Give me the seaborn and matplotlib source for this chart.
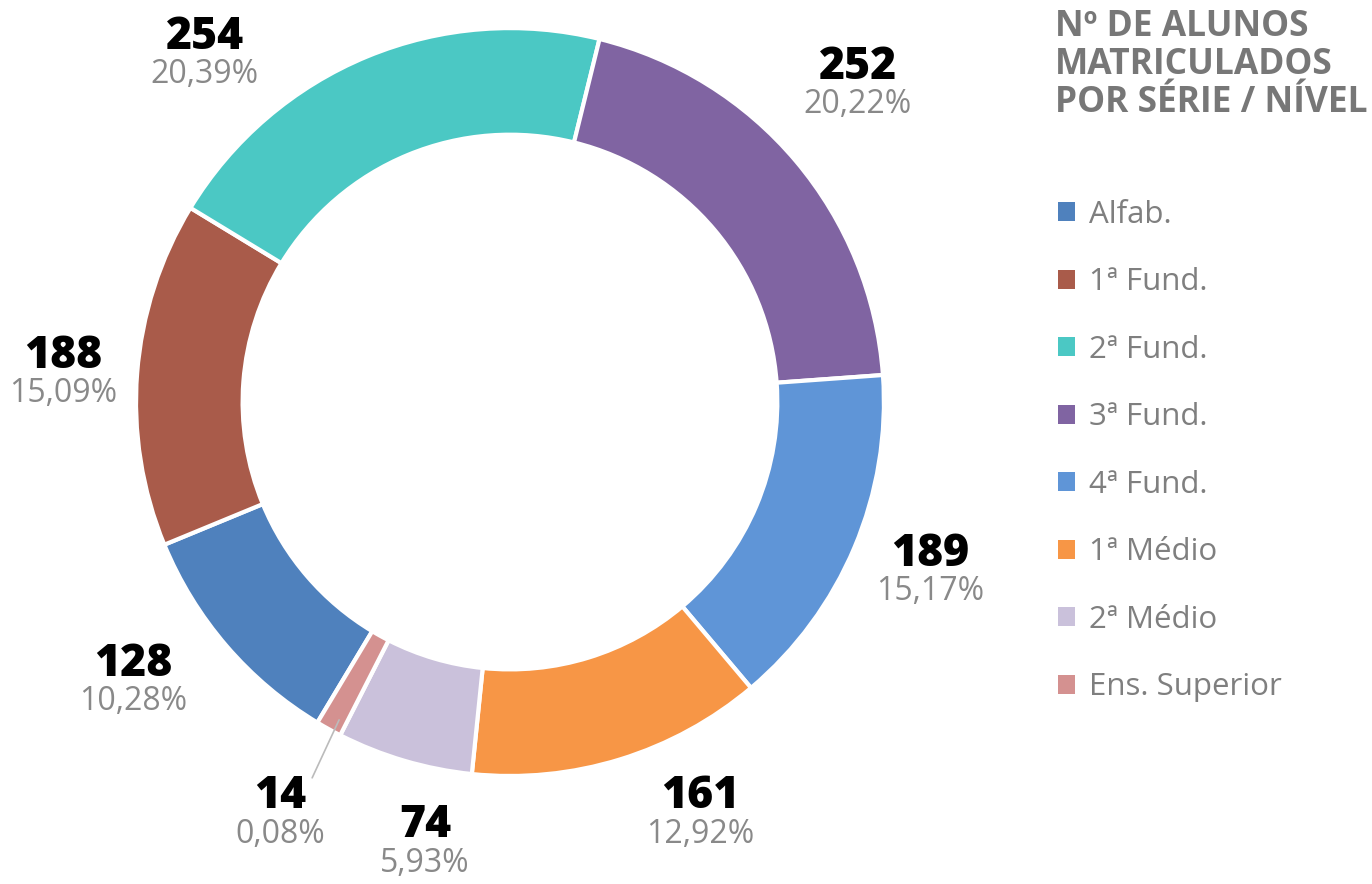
import numpy as np
import pandas as pd
import seaborn as sns
import matplotlib.pyplot as plt
from matplotlib.patches import Patch

# dados
series = ['Alfab.', '1ª Fund.', '2ª Fund.', '3ª Fund.', '4ª Fund.',
          '1ª Médio', '2ª Médio', 'Ens. Superior']
alunos = [128, 188, 254, 252, 189, 161, 74, 14]
percentuais = ['10,28%', '15,09%', '20,39%', '20,22%', '15,17%',
               '12,92%', '5,93%', '0,08%']
cores = ['#4F81BD', '#A95B4A', '#4BC8C4', '#8064A2', '#5F95D7',
         '#F79646', '#CAC1DB', '#D49190']

# posição dos rótulos (em raios, a partir do centro)
pos_rotulos = [(-1.008, -0.690), (-1.195, 0.134), (-0.816, 0.987), (0.930, 0.906),
               (1.123, -0.396), (0.508, -1.045), (-0.227, -1.122), (-0.615, -1.045)]

df = pd.DataFrame({'serie': series, 'alunos': alunos, 'pct': percentuais})

sns.set_theme(style="white")
plt.rcParams['font.family'] = ['Open Sans', 'DejaVu Sans']

fig = plt.figure(figsize=(13.72, 8.84), dpi=100)
ax = fig.add_axes([0.0991, 0.1222, 0.5452, 0.846])

wedges, _ = ax.pie(df['alunos'], colors=cores, startangle=239, counterclock=False,
                   radius=1.0, wedgeprops=dict(width=0.285, edgecolor='white', linewidth=3))
ax.set_xlim(-1, 1)
ax.set_ylim(-1, 1)
ax.set_aspect('equal')
ax.axis('off')

for (x, y), n, p in zip(pos_rotulos, df['alunos'], df['pct']):
    ax.annotate(str(n), (x, y), xytext=(0, -3), textcoords='offset points',
                ha='center', va='center', fontsize=32, fontweight='heavy',
                color='black', annotation_clip=False)
    ax.annotate(p, (x, y), xytext=(0, -30), textcoords='offset points',
                ha='center', va='center', fontsize=23, color='#898989',
                annotation_clip=False)

# linha guia do Ens. Superior
ax.plot([-0.457, -0.529], [-0.850, -1.005], color='#bbbbbb', lw=1.2, clip_on=False)

fig.text(0.769, 0.99, 'Nº DE ALUNOS\nMATRICULADOS\nPOR SÉRIE / NÍVEL', ha='left', va='top',
         fontsize=25.5, fontweight='bold', color='#777777', linespacing=1.08)

handles = [Patch(facecolor=c, edgecolor='none') for c in cores]
fig.legend(handles, series, loc='upper left', bbox_to_anchor=(0.7507, 0.8057),
           frameon=False, fontsize=22.5, labelcolor='#7f7f7f',
           handlelength=0.55, handleheight=0.55, handletextpad=0.45, labelspacing=1.2)

plt.savefig('out.png', dpi=100)
